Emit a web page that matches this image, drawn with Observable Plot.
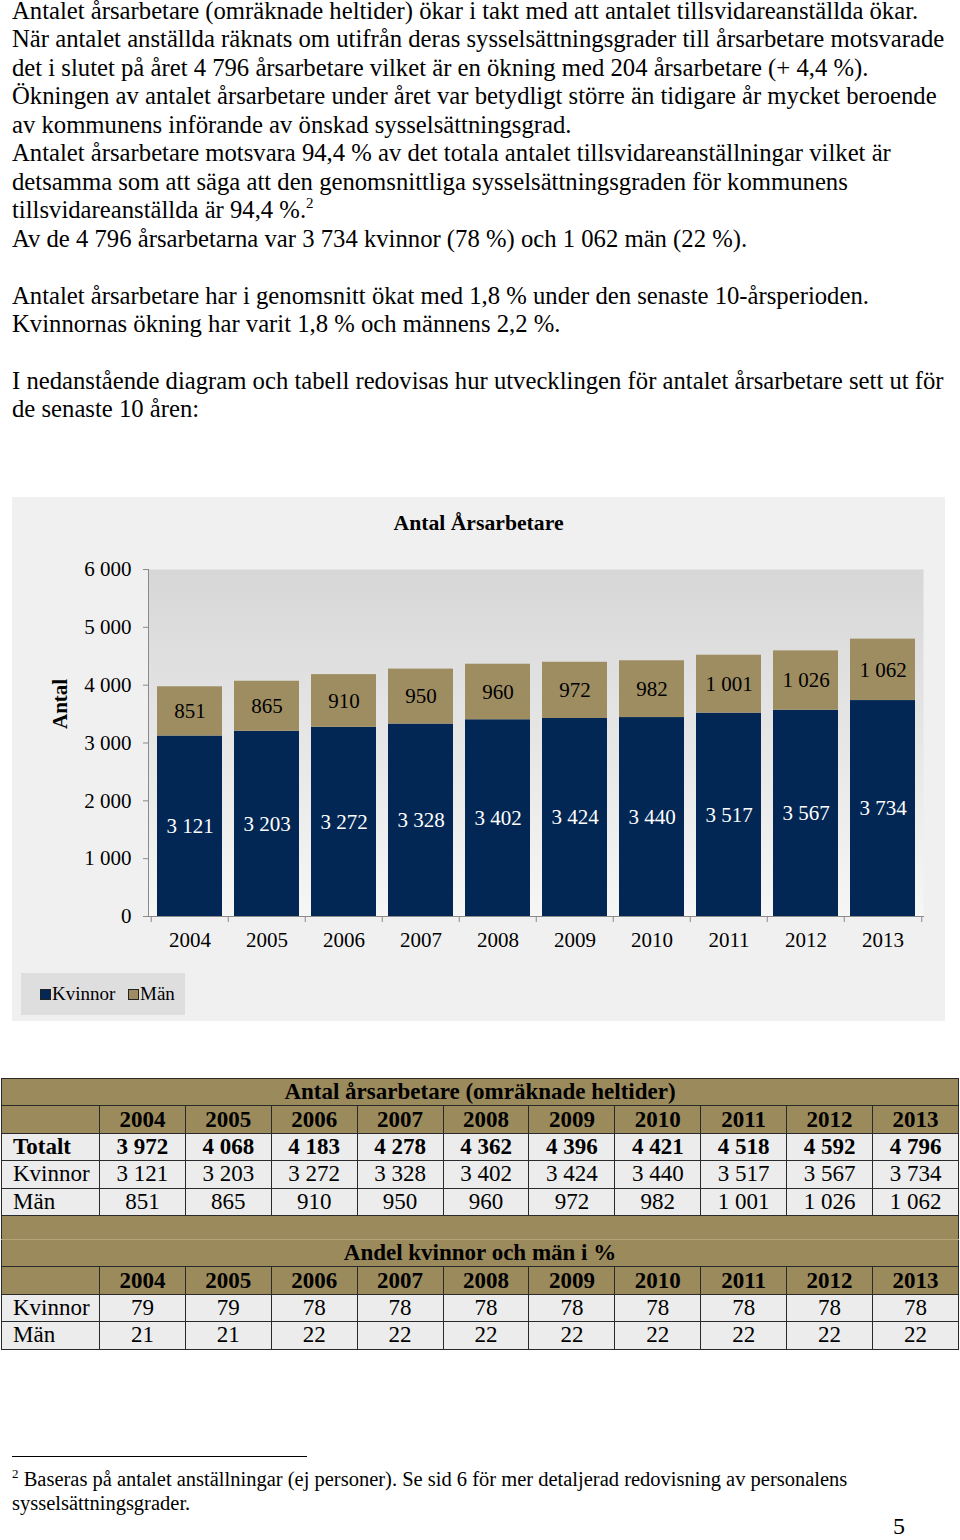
<!DOCTYPE html>
<html>
<head>
<meta charset="utf-8">
<script src="https://cdn.jsdelivr.net/npm/d3@7"></script>
<script src="https://cdn.jsdelivr.net/npm/@observablehq/plot@0.6"></script>
<style>
  html, body { margin: 0; padding: 0; background: #fff; }
  body { width: 960px; height: 1540px; position: relative; overflow: hidden; font-family: "Liberation Serif", "Times New Roman", serif; color: #000; }
  #text { position: absolute; left: 12px; top: -3px; font-size: 24.7px; line-height: 28.45px; white-space: nowrap; }
  #text sup { font-size: 15px; vertical-align: 10px; line-height: 0; }
  #chartbox { position: absolute; left: 12px; top: 497px; width: 933px; height: 524px; background: #f0f0f0; }
  #charttitle { position: absolute; left: 0; width: 933px; top: 14px; text-align: center; font-weight: bold; font-size: 21.7px; }
  #chart { position: absolute; left: 0; top: 0; }
  #legend { position: absolute; left: 9px; top: 476px; width: 164px; height: 42px; background: #dedede; font-size: 19px; }
  #legend .item { position: absolute; top: 10px; line-height: 22px; }
  #legend .sw { display: inline-block; width: 11px; height: 11px; margin-right: 1px; vertical-align: 0px; }
  table { position: absolute; left: 1px; top: 1078px; border-collapse: collapse; table-layout: fixed; width: 957px; font-size: 23px; }
  td { border: 1.5px solid #2a2a2a; height: 26.4px; padding: 0; text-align: center; line-height: 24px; white-space: nowrap; overflow: hidden; }
  td.lab { text-align: left; padding-left: 11px; }
  tr.tan td { background: #9b8a5c; }
  tr.dat td { background: #ececec; }
  tr.title td { font-weight: bold; }
  tr.head td { font-weight: bold; }
  tr.bold td { font-weight: bold; }
  tr.spacer td { border-bottom: 1px solid #b3a47a; height: 23px; }
  tr.title2 td { border-top: 1px solid #b3a47a; }
  #fnrule { position: absolute; left: 12px; top: 1456px; width: 295px; height: 0; border-top: 1px solid #000; }
  #footnote { position: absolute; left: 12px; top: 1467px; font-size: 20.5px; line-height: 24px; white-space: nowrap; }
  #footnote sup { font-size: 13px; vertical-align: 8px; line-height: 0; }
  #pagenum { position: absolute; left: 893px; top: 1513px; font-size: 24px; }
</style>
</head>
<body>
<div id="text">
Antalet årsarbetare (omräknade heltider) ökar i takt med att antalet tillsvidareanställda ökar.<br>
När antalet anställda räknats om utifrån deras sysselsättningsgrader till årsarbetare motsvarade<br>
det i slutet på året 4 796 årsarbetare vilket är en ökning med 204 årsarbetare (+ 4,4 %).<br>
Ökningen av antalet årsarbetare under året var betydligt större än tidigare år mycket beroende<br>
av kommunens införande av önskad sysselsättningsgrad.<br>
Antalet årsarbetare motsvara 94,4 % av det totala antalet tillsvidareanställningar vilket är<br>
detsamma som att säga att den genomsnittliga sysselsättningsgraden för kommunens<br>
tillsvidareanställda är 94,4 %.<sup>2</sup><br>
Av de 4 796 årsarbetarna var 3 734 kvinnor (78 %) och 1 062 män (22 %).<br>
<br>
Antalet årsarbetare har i genomsnitt ökat med 1,8 % under den senaste 10-årsperioden.<br>
Kvinnornas ökning har varit 1,8 % och männens 2,2 %.<br>
<br>
I nedanstående diagram och tabell redovisas hur utvecklingen för antalet årsarbetare sett ut för<br>
de senaste 10 åren:
</div>

<div id="chartbox">
  <div id="chart"></div>
  <div id="charttitle">Antal Årsarbetare</div>
  <div id="legend"></div>
</div>

<table id="tbl"></table>

<div id="fnrule"></div>
<div id="footnote"><sup>2</sup> Baseras på antalet anställningar (ej personer). Se sid 6 för mer detaljerad redovisning av personalens<br>sysselsättningsgrader.</div>
<div id="pagenum">5</div>

<script>
// ---- Data ----
const years = ["2004", "2005", "2006", "2007", "2008", "2009", "2010", "2011", "2012", "2013"];
const kvinnor = [3121, 3203, 3272, 3328, 3402, 3424, 3440, 3517, 3567, 3734];
const man = [851, 865, 910, 950, 960, 972, 982, 1001, 1026, 1062];
const totalt = [3972, 4068, 4183, 4278, 4362, 4396, 4421, 4518, 4592, 4796];
const andelKvinnor = [79, 79, 78, 78, 78, 78, 78, 78, 78, 78];
const andelMan = [21, 21, 22, 22, 22, 22, 22, 22, 22, 22];
const yTicks = [0, 1000, 2000, 3000, 4000, 5000, 6000];
const series = ["Kvinnor", "Män"];
const seriesColors = ["#022754", "#9e8d60"];

const fmt = v => d3.format(",")(v).replace(/,/g, " ");

const data = years.flatMap((yr, i) => [
  {year: yr, group: "Kvinnor", value: kvinnor[i]},
  {year: yr, group: "Män", value: man[i]}
]);

// ---- Chart ----
const W = 933, H = 470, ML = 136, MR = 22, MT = 72, MB = 51;
const step = (W - ML - MR) / years.length;
const FS = 21;

const chart = Plot.plot({
  width: W, height: H,
  marginLeft: ML, marginRight: MR, marginTop: MT, marginBottom: MB,
  style: {fontFamily: "Liberation Serif, Times New Roman, serif", fontSize: FS + "px", color: "#000", background: "transparent", overflow: "visible"},
  x: {domain: years, paddingInner: 0.16, paddingOuter: 0.08, axis: null, label: null},
  y: {domain: [0, 6000], axis: null, label: null},
  color: {domain: series, range: seriesColors},
  marks: [
    Plot.frame({fill: "url(#plotGrad)", stroke: null}),
    Plot.barY(data, Plot.stackY({x: "year", y: "value", fill: "group", z: "group", order: series})),
    Plot.text(data, Plot.stackY({x: "year", y: "value", z: "group", order: series,
      text: d => d.group === "Kvinnor" ? fmt(d.value) : "", fill: "#ffffff", fontSize: FS})),
    Plot.text(data, Plot.stackY({x: "year", y: "value", z: "group", order: series,
      text: d => d.group === "Män" ? fmt(d.value) : "", fill: "#000000", fontSize: FS})),
    Plot.frame({anchor: "left", stroke: "#8a8a8a"}),
    Plot.frame({anchor: "bottom", stroke: "#8a8a8a"}),
    Plot.axisY({ticks: yTicks, tickSize: 5, tickPadding: 12, tickFormat: fmt, stroke: "#8a8a8a", fontSize: FS, label: null}),
    Plot.axisX({tickSize: 0, tickPadding: 16, fontSize: FS, label: null}),
    Plot.axisX({tickSize: 6, dx: -step / 2, tickFormat: () => "", stroke: "#8a8a8a", label: null}),
    Plot.axisX([years[years.length - 1]], {tickSize: 6, dx: step / 2, tickFormat: () => "", stroke: "#8a8a8a", label: null}),
    Plot.text(["Antal"], {frameAnchor: "left", rotate: -90, dx: -88, dy: -14, fontWeight: "bold", fontSize: 21})
  ]
});

const svg = chart.tagName.toLowerCase() === "svg" ? chart : chart.querySelector("svg");
const defs = d3.select(svg).insert("defs", ":first-child");
const grad = defs.append("linearGradient").attr("id", "plotGrad")
  .attr("x1", 0).attr("y1", 0).attr("x2", 0).attr("y2", 1);
grad.append("stop").attr("offset", "0%").attr("stop-color", "#d7d7d7");
grad.append("stop").attr("offset", "100%").attr("stop-color", "#f6f6f6");
document.getElementById("chart").appendChild(chart);

// ---- Legend ----
const legend = document.getElementById("legend");
const legendX = [19, 107];
series.forEach((s, i) => {
  const it = document.createElement("div");
  it.className = "item";
  it.style.left = legendX[i] + "px";
  it.innerHTML = `<span class="sw" style="background:${seriesColors[i]};border:1px solid #222;box-sizing:border-box"></span>${s}`;
  legend.appendChild(it);
});

// ---- Tables ----
const tbl = document.getElementById("tbl");
let html = `<colgroup><col style="width:98px">${years.map(() => '<col style="width:85.9px">').join("")}</colgroup>`;
const titleRow = t => `<tr class="tan title"><td colspan="11">${t}</td></tr>`;
const headRow = () => `<tr class="tan head"><td></td>${years.map(y => `<td>${y}</td>`).join("")}</tr>`;
const dataRow = (lab, vals, cls) => `<tr class="dat ${cls || ""}"><td class="lab">${lab}</td>${vals.map(v => `<td>${fmt(v)}</td>`).join("")}</tr>`;
html += titleRow("Antal årsarbetare (omräknade heltider)");
html += headRow();
html += dataRow("Totalt", totalt, "bold");
html += dataRow("Kvinnor", kvinnor);
html += dataRow("Män", man);
html += `<tr class="tan spacer"><td colspan="11"></td></tr>`;
html += `<tr class="tan title title2"><td colspan="11">Andel kvinnor och män i %</td></tr>`;
html += headRow();
html += dataRow("Kvinnor", andelKvinnor);
html += dataRow("Män", andelMan);
tbl.innerHTML = html;
</script>
</body>
</html>
